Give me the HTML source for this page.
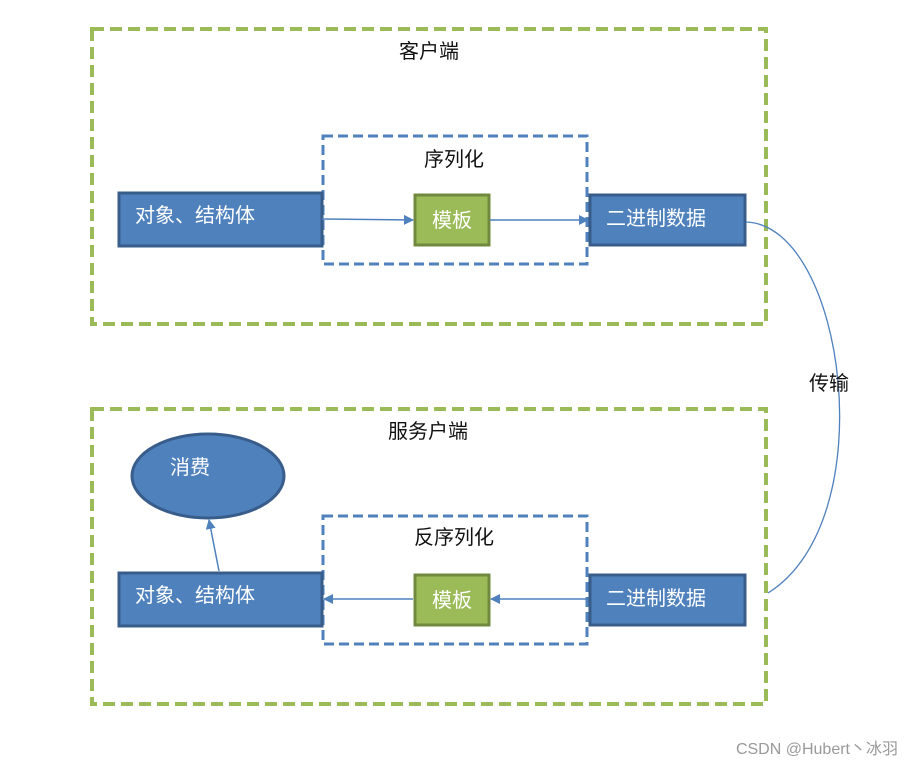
<!DOCTYPE html>
<html><head><meta charset="utf-8"><style>
html,body{margin:0;padding:0;background:#fff;}
svg text{font-family:"Liberation Sans","Noto Sans CJK SC",sans-serif;}
</style></head><body>
<svg width="915" height="766" viewBox="0 0 915 766" xmlns="http://www.w3.org/2000/svg">
<defs>
<marker id="ar" markerWidth="10" markerHeight="10" refX="9" refY="5" orient="auto" markerUnits="userSpaceOnUse">
<path d="M0,0 L10,5 L0,10 z" fill="#4f81bd"/></marker>
</defs>
<rect width="915" height="766" fill="#fff"/>
<rect x="92" y="29" width="674" height="295" fill="none" stroke="#9bbb59" stroke-width="4" stroke-dasharray="12 6"/>
<rect x="92" y="409" width="674" height="295" fill="none" stroke="#9bbb59" stroke-width="4" stroke-dasharray="12 6"/>
<text x="429" y="58" font-size="20" text-anchor="middle" fill="#111">客户端</text>
<text x="428" y="438" font-size="20" text-anchor="middle" fill="#111">服务户端</text>
<rect x="323" y="136" width="264" height="128" fill="none" stroke="#4f81bd" stroke-width="3" stroke-dasharray="10 5"/>
<rect x="323" y="516" width="264" height="128" fill="none" stroke="#4f81bd" stroke-width="3" stroke-dasharray="10 5"/>
<text x="454" y="166" font-size="20" text-anchor="middle" fill="#111">序列化</text>
<text x="454" y="544" font-size="20" text-anchor="middle" fill="#111">反序列化</text>
<rect x="119" y="193" width="203" height="53" fill="#4f81bd" stroke="#385d8a" stroke-width="3"/>
<text x="135" y="222" font-size="20" fill="#fff">对象、结构体</text>
<rect x="415" y="195" width="74" height="50" fill="#9bbb59" stroke="#71893f" stroke-width="3"/>
<text x="452" y="227" font-size="20" fill="#fff" text-anchor="middle">模板</text>
<rect x="590" y="195" width="155" height="50" fill="#4f81bd" stroke="#385d8a" stroke-width="3"/>
<text x="606" y="225" font-size="20" fill="#fff">二进制数据</text>
<line x1="322" y1="219" x2="413" y2="220" stroke="#4f81bd" stroke-width="1.5" marker-end="url(#ar)"/>
<line x1="490" y1="220" x2="588" y2="220" stroke="#4f81bd" stroke-width="1.5" marker-end="url(#ar)"/>
<rect x="119" y="573" width="203" height="53" fill="#4f81bd" stroke="#385d8a" stroke-width="3"/>
<text x="135" y="602" font-size="20" fill="#fff">对象、结构体</text>
<rect x="415" y="575" width="74" height="50" fill="#9bbb59" stroke="#71893f" stroke-width="3"/>
<text x="452" y="607" font-size="20" fill="#fff" text-anchor="middle">模板</text>
<rect x="590" y="575" width="155" height="50" fill="#4f81bd" stroke="#385d8a" stroke-width="3"/>
<text x="606" y="605" font-size="20" fill="#fff">二进制数据</text>
<line x1="588" y1="599" x2="491" y2="599" stroke="#4f81bd" stroke-width="1.5" marker-end="url(#ar)"/>
<line x1="413" y1="599" x2="324" y2="599" stroke="#4f81bd" stroke-width="1.5" marker-end="url(#ar)"/>
<ellipse cx="208" cy="476" rx="76" ry="42" fill="#4f81bd" stroke="#385d8a" stroke-width="3"/>
<text x="190" y="474" font-size="20" fill="#fff" text-anchor="middle">消费</text>
<line x1="219" y1="571" x2="209" y2="520" stroke="#4f81bd" stroke-width="1.5" marker-end="url(#ar)"/>
<path d="M746,222 C845,225 885,520 768,593" fill="none" stroke="#4f81bd" stroke-width="1.3"/>
<text x="829" y="390" font-size="20" fill="#111" text-anchor="middle">传输</text>
<text x="898" y="754" font-size="16" fill="#999" text-anchor="end">CSDN @Hubert丶冰羽</text>
</svg>
</body></html>
